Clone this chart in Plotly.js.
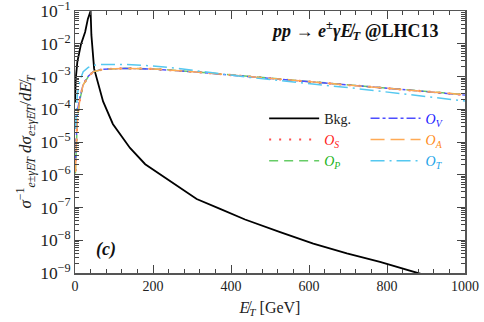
<!DOCTYPE html>
<html>
<head>
<meta charset="utf-8">
<script src="https://cdn.plot.ly/plotly-3.0.1.min.js"></script>
<style>
  html, body { margin: 0; padding: 0; background: #fff; }
  #plot { width: 484px; height: 322px; }
</style>
</head>
<body>
<div id="plot"></div>
<script>
// missing-ET distributions, background vs. the five operators
const bkgX = [0, 2, 6, 15, 26, 33, 40, 42, 49, 72, 97, 115, 133, 141, 180, 244, 312, 372, 436, 526, 611, 697, 782, 876, 1000];
const bkgY = [1.6e-4, 8.7e-4, 2.8e-3, 9.3e-3, 2.3e-2, 5.75e-2, 0.1, 1.86e-2, 1.74e-3, 1.74e-4, 3.55e-5, 1.78e-5,
              8.9e-6, 6.6e-6, 2.1e-6, 6.6e-7, 1.82e-7, 9.1e-8, 4.3e-8, 1.78e-8, 7.9e-9, 4.0e-9, 2.2e-9, 1.02e-9, 4.0e-10];

const sigX = [1, 4, 6, 13, 21, 34, 47, 72, 100, 128, 200, 256, 320, 385, 450, 513, 580, 641, 700, 769, 830, 897, 950, 1000];
const opS = [1.3e-6, 1.07e-5, 5.5e-5, 2.19e-4, 5.6e-4, 1.0e-3, 1.41e-3, 1.66e-3, 1.74e-3, 1.78e-3, 1.70e-3, 1.55e-3,
             1.35e-3, 1.15e-3, 1.0e-3, 8.7e-4, 7.4e-4, 6.3e-4, 5.5e-4, 4.7e-4, 4.1e-4, 3.55e-4, 3.1e-4, 2.75e-4];
const opP = [1.1e-6, 1.0e-5, 5.2e-5, 2.1e-4, 5.5e-4, 9.9e-4, 1.40e-3, 1.66e-3, 1.75e-3, 1.78e-3, 1.71e-3, 1.56e-3,
             1.36e-3, 1.16e-3, 1.01e-3, 8.8e-4, 7.5e-4, 6.4e-4, 5.6e-4, 4.8e-4, 4.2e-4, 3.6e-4, 3.15e-4, 2.8e-4];
const opV = [2.0e-6, 7.0e-5, 9.0e-5, 2.4e-4, 5.8e-4, 1.02e-3, 1.42e-3, 1.66e-3, 1.74e-3, 1.77e-3, 1.69e-3, 1.54e-3,
             1.34e-3, 1.14e-3, 9.9e-4, 8.6e-4, 7.3e-4, 6.3e-4, 5.5e-4, 4.7e-4, 4.1e-4, 3.5e-4, 3.1e-4, 2.7e-4];
const opA = [1.2e-6, 1.05e-5, 5.4e-5, 2.2e-4, 5.6e-4, 1.0e-3, 1.41e-3, 1.66e-3, 1.74e-3, 1.78e-3, 1.70e-3, 1.55e-3,
             1.35e-3, 1.15e-3, 1.0e-3, 8.7e-4, 7.4e-4, 6.35e-4, 5.5e-4, 4.75e-4, 4.1e-4, 3.55e-4, 3.1e-4, 2.75e-4];
const opT = [2.5e-5, 1.6e-4, 2.8e-4, 7.9e-4, 1.41e-3, 1.9e-3, 2.19e-3, 2.34e-3, 2.4e-3, 2.34e-3, 2.09e-3, 1.82e-3,
             1.45e-3, 1.15e-3, 9.3e-4, 7.8e-4, 6.3e-4, 5.4e-4, 4.6e-4, 3.7e-4, 3.0e-4, 2.5e-4, 2.1e-4, 1.78e-4];

const FONT = 'Liberation Serif, DejaVu Serif, serif';
const ET = '<i>E̸</i><sub><i>T</i></sub>';

function opName(sub, color) {
  return `<span style="color:${color}"><i>O</i><sub><i>${sub}</i></sub></span>`;
}

// two legends stand in for the two-column key
const traces = [
  { x: bkgX, y: bkgY, name: 'Bkg.', legend: 'legend', line: { color: '#000', width: 1.8 } },
  { x: sigX, y: opS, name: opName('S', '#ff1a1a'), legend: 'legend', line: { color: '#ff4d4d', width: 2.2, dash: '2px,8px' } },
  { x: sigX, y: opP, name: opName('P', '#1ab31a'), legend: 'legend', line: { color: '#66cc66', width: 1.5, dash: '9px,6px' } },
  { x: sigX, y: opV, name: opName('V', '#1a1aff'), legend: 'legend2', line: { color: '#4d4dff', width: 1.4, dash: 'dashdot' } },
  { x: sigX, y: opA, name: opName('A', '#ff8c1a'), legend: 'legend2', line: { color: '#ffaa55', width: 1.5, dash: '14px,6px' } },
  { x: sigX, y: opT, name: opName('T', '#1aa3e8'), legend: 'legend2', line: { color: '#55c8f0', width: 1.5, dash: '14px,5px,2px,5px' } }
].map(t => Object.assign({ type: 'scatter', mode: 'lines' }, t));

const legendBase = {
  xanchor: 'left', yanchor: 'top', y: 0.65, itemwidth: 50,
  bgcolor: 'rgba(0,0,0,0)', tracegroupgap: 0,
  font: { family: FONT, size: 14, color: '#222' }
};

const layout = {
  width: 484, height: 322,
  margin: { l: 75, r: 19, t: 11, b: 49 },
  paper_bgcolor: '#fff', plot_bgcolor: '#fff',
  font: { family: FONT, size: 14, color: '#222' },
  showlegend: true,
  legend: Object.assign({ x: 0.485 }, legendBase),
  legend2: Object.assign({ x: 0.745 }, legendBase),
  xaxis: {
    range: [0, 1000], dtick: 200, tick0: 0,
    ticks: 'inside', ticklen: 8, tickcolor: '#444', mirror: 'allticks',
    showline: true, linecolor: '#555', linewidth: 1.5, showgrid: false, zeroline: false,
    minor: { dtick: 40, ticks: 'inside', ticklen: 4, tickcolor: '#444', showgrid: false },
    title: { text: ET + ' [GeV]', font: { family: FONT, size: 16 }, standoff: 8 }
  },
  yaxis: {
    type: 'log', range: [-9.0005, -0.9995], dtick: 1, exponentformat: 'power',
    ticklabeloverflow: 'allow',
    ticks: 'inside', ticklen: 8, tickcolor: '#444', mirror: 'allticks',
    showline: true, linecolor: '#555', linewidth: 1.5, showgrid: false, zeroline: false,
    minor: { ticks: 'inside', ticklen: 4, tickcolor: '#444', showgrid: false },
    title: {
      text: '<i>σ</i><sup>−1</sup><sub><i>e</i>±<i>γE̸T</i></sub> <i>dσ</i><sub><i>e</i>±<i>γE̸T</i></sub>/<i>d</i>' + ET,
      font: { family: FONT, size: 17 }, standoff: 4
    }
  },
  annotations: [
    { xref: 'paper', yref: 'paper', x: 0.935, y: 0.925, xanchor: 'right', yanchor: 'middle', showarrow: false,
      text: '<b><i>pp</i> → <i>e</i><sup>±</sup><i>γ</i>' + ET + ' @LHC13</b>',
      font: { family: FONT, size: 18, color: '#111' } },
    { xref: 'x', yref: 'y', x: 80, y: -8.27, showarrow: false,
      text: '<b><i>(c)</i></b>', font: { family: FONT, size: 18, color: '#111' } }
  ]
};

Plotly.newPlot('plot', traces, layout, { staticPlot: true });
</script>
</body>
</html>
